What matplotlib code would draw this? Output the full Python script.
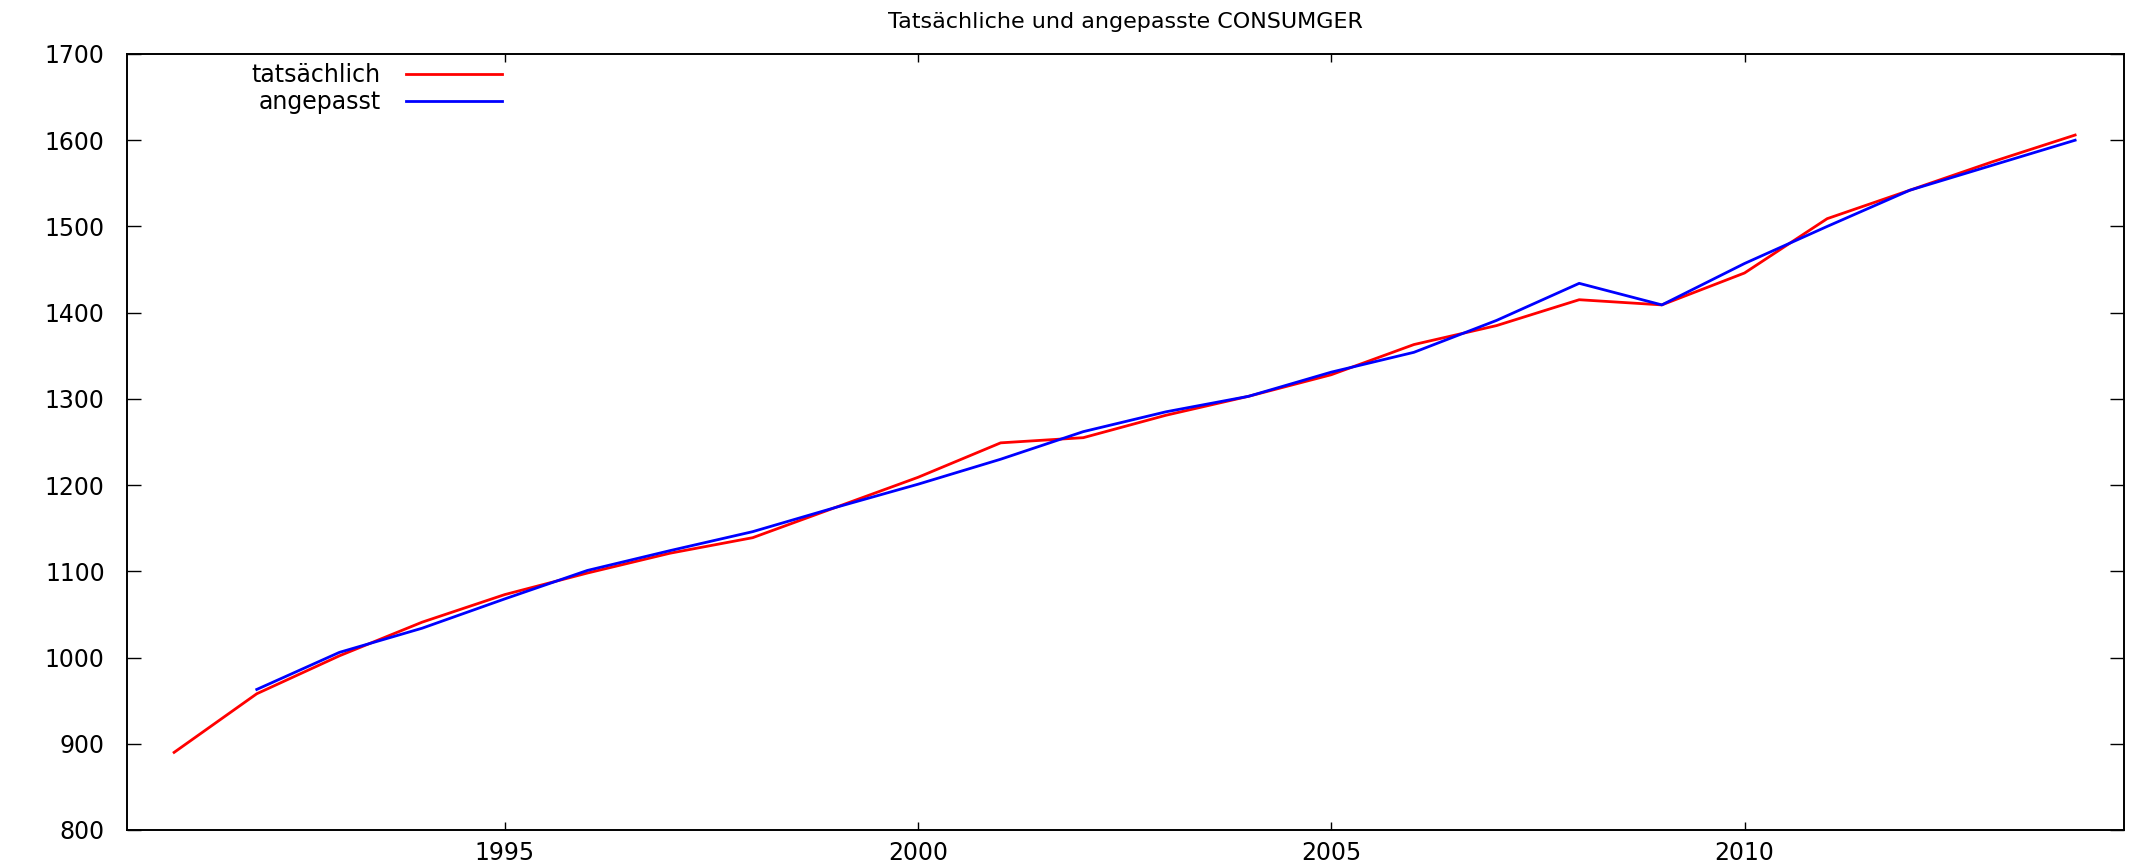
#!/usr/bin/env python3
"""Actual vs. fitted CONSUMGER, yearly 1991-2014 (gnuplot-like styling)."""

import matplotlib

matplotlib.use("Agg")
import matplotlib.pyplot as plt  # noqa: E402

plt.rcParams["font.family"] = ["DejaVu Sans"]

years_actual = list(range(1991, 2015))
actual = [
    890, 958, 1002, 1041, 1073, 1098, 1121, 1139, 1174, 1209, 1249, 1255,
    1281, 1303, 1328, 1363, 1385, 1415, 1409, 1446, 1509, 1542, 1575, 1606,
]

years_fitted = list(range(1992, 2015))
fitted = [
    963, 1006, 1034, 1068, 1101, 1124, 1146, 1174, 1201, 1230, 1262,
    1285, 1303, 1331, 1354, 1391, 1434, 1409, 1457, 1500, 1542, 1571, 1600,
]

x_ticks = [1995, 2000, 2005, 2010]
y_ticks = list(range(800, 1701, 100))

TITLE = "Tatsächliche und angepasste CONSUMGER"
LABEL_ACTUAL = "tatsächlich"
LABEL_FITTED = "angepasst"


def main() -> None:
    fig = plt.figure(figsize=(21.38, 8.68), dpi=100)
    ax = fig.add_axes([0.0594, 0.0438, 0.9340, 0.8940])

    ax.plot(years_actual, actual, color="#ff0000", linewidth=2.0, label=LABEL_ACTUAL)
    ax.plot(years_fitted, fitted, color="#0000ff", linewidth=2.0, label=LABEL_FITTED)

    ax.set_xlim(1990.43, 2014.59)
    ax.set_ylim(800, 1700)
    ax.set_xticks(x_ticks)
    ax.set_yticks(y_ticks)

    for sp in ax.spines.values():
        sp.set_linewidth(1.4)
    ax.tick_params(axis="x", direction="in", length=6, width=1.0,
                   top=True, labelsize=17, pad=8)
    ax.tick_params(axis="y", direction="in", length=10, width=1.0,
                   right=True, labelsize=17, pad=16)

    ax.set_title(TITLE, fontsize=16, pad=19)

    ax.legend(
        loc="upper right",
        bbox_to_anchor=(0.188, 0.988),
        frameon=False,
        markerfirst=False,
        fontsize=17,
        handlelength=4.1,
        handletextpad=1.06,
        labelspacing=0.12,
        borderpad=0.0,
        borderaxespad=0.0,
    )

    fig.savefig("out.png", dpi=100)
    plt.close(fig)


if __name__ == "__main__":
    main()
